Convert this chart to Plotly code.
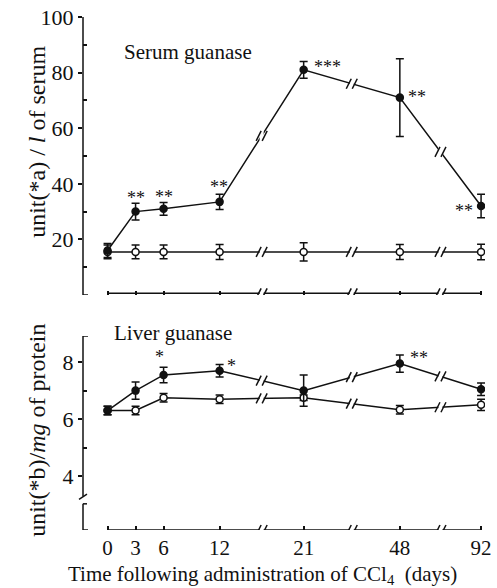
import plotly.graph_objects as go

# ---------------- data ----------------
days = ["0", "3", "6", "12", "21", "48", "92"]
axis_pos = [0, 3, 6, 12, 21, 31.3, 40.0]  # broken time-axis scale

serum_ccl4 = [16, 30, 31, 33.5, 81, 71, 32]
serum_ccl4_err = [2.5, 3, 2.3, 2.7, 3, 14, 4.2]
serum_ctrl = [15.5, 15.5, 15.5, 15.5, 15.5, 15.5, 15.5]
serum_ctrl_err = [2.5, 2.5, 2.5, 2.7, 3.3, 2.7, 2.8]

liver_ccl4 = [6.3, 7.0, 7.55, 7.7, 7.0, 7.95, 7.05]
liver_ccl4_err = [0.15, 0.3, 0.27, 0.22, 0.55, 0.3, 0.22]
liver_ctrl = [6.3, 6.3, 6.75, 6.7, 6.75, 6.33, 6.5]
liver_ctrl_err = [0.15, 0.15, 0.15, 0.15, 0.1, 0.15, 0.2]

serum_ticks = [20, 40, 60, 80, 100]
liver_ticks = [4, 6, 8]

# significance marks: (text, index, xshift, yshift)
serum_stars = [("**", 1, 0, 14), ("**", 2, 0, 12), ("**", 3, -1, 15),
               ("***", 4, 24, 3), ("**", 5, 17, 1), ("**", 6, -17, -5)]
liver_stars = [("*", 2, -4, 18), ("*", 3, 12, 5), ("**", 5, 19, 6)]

FONT = "Liberation Serif, Times New Roman, serif"
BLACK = "#111111"

fig = go.Figure()


def add_series(y, err, xa, ya, filled):
    fig.add_trace(go.Scatter(
        x=axis_pos, y=y, xaxis=xa, yaxis=ya, mode="lines+markers",
        line=dict(color=BLACK, width=1.5),
        marker=dict(symbol="circle", size=7,
                    color=BLACK if filled else "white",
                    line=dict(color=BLACK, width=1.5)),
        error_y=dict(type="data", array=err, visible=True,
                     color=BLACK, thickness=1.5, width=4),
        showlegend=False, hoverinfo="skip"))


add_series(serum_ctrl, serum_ctrl_err, "x", "y", False)
add_series(serum_ccl4, serum_ccl4_err, "x", "y", True)
add_series(liver_ctrl, liver_ctrl_err, "x2", "y2", False)
add_series(liver_ccl4, liver_ccl4_err, "x2", "y2", True)

shapes = []


def brk(xr, yr, xa, ya, gap_h=10):
    # white gap plus "//" break mark, anchored at data point, pixel-sized
    shapes.append(dict(type="rect", xref=xr, yref=yr, xsizemode="pixel", ysizemode="pixel",
                       xanchor=xa, yanchor=ya, x0=-2, x1=2, y0=-gap_h / 2, y1=gap_h / 2,
                       fillcolor="white", line=dict(width=0), layer="above"))
    for dx in (-3, 3):
        shapes.append(dict(type="line", xref=xr, yref=yr, xsizemode="pixel", ysizemode="pixel",
                           xanchor=xa, yanchor=ya, x0=dx - 2.5, x1=dx + 2.5, y0=-5, y1=5,
                           line=dict(color=BLACK, width=1.5), layer="above"))


# series breaks between non-contiguous days
for i in (3, 4, 5):
    xm = (axis_pos[i] + axis_pos[i + 1]) / 2
    brk("x", "y", xm, (serum_ccl4[i] + serum_ccl4[i + 1]) / 2)
    brk("x", "y", xm, (serum_ctrl[i] + serum_ctrl[i + 1]) / 2, gap_h=6)
    brk("x2", "y2", xm, (liver_ccl4[i] + liver_ccl4[i + 1]) / 2, gap_h=6)
    brk("x2", "y2", xm, (liver_ctrl[i] + liver_ctrl[i + 1]) / 2, gap_h=6)


def hline(xr, yr, x0, x1, y):
    shapes.append(dict(type="line", xref=xr, yref=yr, x0=x0, x1=x1, y0=y, y1=y,
                       line=dict(color=BLACK, width=1.5), layer="above"))


def vline(yr, y0, y1):
    shapes.append(dict(type="line", xref="paper", yref=yr, x0=0, x1=0, y0=y0, y1=y1,
                       line=dict(color=BLACK, width=1.5), layer="above"))


def hook(yr, y, length=5):
    shapes.append(dict(type="line", xref="paper", yref=yr, xsizemode="pixel", xanchor=0,
                       x0=0, x1=length, y0=y, y1=y,
                       line=dict(color=BLACK, width=1.5), layer="above"))


# x axis lines with breaks
hline("x", "y", axis_pos[0], axis_pos[-1], 0.6)
hline("x2", "y2", axis_pos[0], axis_pos[-1], 2.1)
for i in (3, 4, 5):
    xm = (axis_pos[i] + axis_pos[i + 1]) / 2
    brk("x", "y", xm, 0.6, gap_h=6)
    brk("x2", "y2", xm, 2.1, gap_h=6)

# y axis lines
vline("y", 0, 100.5)
hook("y", 100.5)
hook("y", 0)
vline("y2", 3.28, 8.92)
hook("y2", 8.92)
vline("y2", 2.1, 3.02)
hook("y2", 3.02, 4)
hook("y2", 2.1)
shapes.append(dict(type="line", xref="paper", yref="y2", xsizemode="pixel", xanchor=0,
                   x0=-4, x1=4, y0=3.18, y1=3.36, line=dict(color=BLACK, width=1.5), layer="above"))

annotations = []
for txt, i, dx, dy in serum_stars:
    annotations.append(dict(x=axis_pos[i], y=serum_ccl4[i], xref="x", yref="y", text=txt,
                            showarrow=False, xshift=dx, yshift=dy,
                            font=dict(family=FONT, size=18, color=BLACK)))
for txt, i, dx, dy in liver_stars:
    annotations.append(dict(x=axis_pos[i], y=liver_ccl4[i], xref="x2", yref="y2", text=txt,
                            showarrow=False, xshift=dx, yshift=dy,
                            font=dict(family=FONT, size=18, color=BLACK)))

W, L, R, T, B = 497, 83, 5, 17, 58
PW, PH = W - L - R, 588 - T - B


def px(xp):
    return (xp - L) / PW


def py(yp):
    return (588 - B - yp) / PH


annotations += [
    dict(x=px(123), y=py(52), xref="paper", yref="paper", xanchor="left", yanchor="middle",
         text="Serum guanase", showarrow=False, font=dict(family=FONT, size=21, color=BLACK)),
    dict(x=px(113), y=py(333), xref="paper", yref="paper", xanchor="left", yanchor="middle",
         text="Liver guanase", showarrow=False, font=dict(family=FONT, size=21, color=BLACK)),
    dict(x=px(36), y=py(142), xref="paper", yref="paper", xanchor="center", yanchor="middle",
         textangle=-90, text="unit(*a) / <i>l</i> of serum", showarrow=False,
         font=dict(family=FONT, size=24, color=BLACK)),
    dict(x=px(36), y=py(430), xref="paper", yref="paper", xanchor="center", yanchor="middle",
         textangle=-90, text="unit(*b)/<i>mg</i> of protein", showarrow=False,
         font=dict(family=FONT, size=24, color=BLACK)),
    dict(x=px(266), y=py(575), xref="paper", yref="paper", xanchor="center", yanchor="middle",
         text="Time following administration of CCl<sub>4</sub>  (days)", showarrow=False,
         font=dict(family=FONT, size=21, color=BLACK)),
]

xrange = [-2.63, 40.42]
xcommon = dict(range=xrange, tickvals=axis_pos, ticktext=days, ticks="inside", ticklen=4,
               tickwidth=1.5, tickcolor=BLACK, showline=False, showgrid=False, zeroline=False,
               fixedrange=True)

fig.update_layout(
    width=W, height=588,
    margin=dict(l=L, r=R, t=T, b=B, pad=0),
    paper_bgcolor="white", plot_bgcolor="white",
    font=dict(family=FONT, size=21, color=BLACK),
    xaxis=dict(**xcommon, anchor="y", showticklabels=False),
    xaxis2=dict(**xcommon, anchor="y2", showticklabels=True, ticklabeloverflow="allow",
                ticklabelstandoff=3,
                tickfont=dict(family=FONT, size=21, color=BLACK)),
    yaxis=dict(domain=[py(295), 1.0], range=[0, 100], tickvals=serum_ticks, ticks="outside",
               ticklen=4, tickwidth=1.5, tickcolor=BLACK, showline=False, showgrid=False,
               zeroline=False, anchor="x", fixedrange=True,
               minor=dict(tickvals=[10, 30, 50, 70, 90], ticks="inside", ticklen=4,
                          tickwidth=1.5, tickcolor=BLACK),
               tickfont=dict(family=FONT, size=22, color=BLACK)),
    yaxis2=dict(domain=[0, py(336)], range=[2.1, 8.92], tickvals=liver_ticks, ticks="outside",
                ticklen=4, tickwidth=1.5, tickcolor=BLACK, showline=False, showgrid=False,
                zeroline=False, anchor="x2", fixedrange=True,
                minor=dict(tickvals=[5, 7], ticks="inside", ticklen=4,
                           tickwidth=1.5, tickcolor=BLACK),
                tickfont=dict(family=FONT, size=22, color=BLACK)),
    shapes=shapes,
    annotations=annotations,
)

fig.write_html("out.html", config={"displayModeBar": False},
               post_script="document.body.style.margin='0';document.body.style.overflow='hidden';")
